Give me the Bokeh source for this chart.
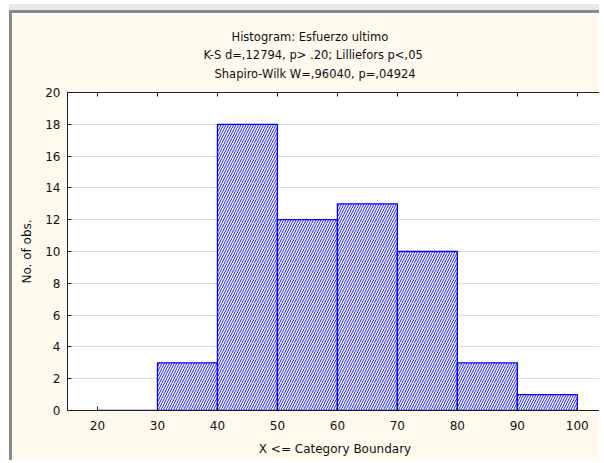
from bokeh.plotting import figure
from bokeh.models import LinearAxis, FixedTicker, Range1d, Title
from bokeh.embed import file_html
from bokeh.resources import INLINE

# Data
bin_left = [20, 30, 40, 50, 60, 70, 80, 90]
bin_right = [30, 40, 50, 60, 70, 80, 90, 100]
counts = [0, 3, 18, 12, 13, 10, 3, 1]
x_ticks = [20, 30, 40, 50, 60, 70, 80, 90, 100]
y_ticks = [0, 2, 4, 6, 8, 10, 12, 14, 16, 18, 20]
title_lines = [
    "Histogram: Esfuerzo ultimo",
    "K-S d=,12794, p> .20; Lilliefors p<,05",
    "Shapiro-Wilk W=,96040, p=,04924",
]

FONT = "DejaVu Sans"
CREAM = "#FFF9EE"

p = figure(
    width=590, height=450,
    output_backend="svg", toolbar_location=None,
    x_range=Range1d(15, 104.2), y_range=Range1d(0, 20),
    x_axis_location=None, y_axis_location=None,
    min_border_left=55, min_border_right=0,
    min_border_top=79, min_border_bottom=53,
    background_fill_color="white", border_fill_color=CREAM,
    outline_line_color=None,
)
p.styles = {
    "margin-left": "9px", "margin-top": "10px",
    "border-left": "3px solid #8a8a8a", "border-top": "3px solid #8a8a8a",
    "box-shadow": "0 -6px 0 0 #e8e8e8",
}

# grid
p.xgrid.visible = False
p.ygrid.ticker = FixedTicker(ticks=y_ticks[1:-1])
p.ygrid.grid_line_color = "#B4B4B4"
p.ygrid.grid_line_dash = "1 1"
p.ygrid.grid_line_width = 1

# bars
p.quad(left=bin_left, right=bin_right, bottom=0, top=counts,
       fill_color="white", line_color="#0000FF", line_width=1.3,
       hatch_pattern="/", hatch_color="#1a1aff", hatch_scale=5, hatch_weight=1)

def style_axis(ax):
    ax.axis_line_color = "#202020"
    ax.major_tick_line_color = "#202020"
    ax.major_tick_in = 4
    ax.major_tick_out = 0
    ax.minor_tick_line_color = None
    ax.major_label_text_font = FONT
    ax.major_label_text_font_size = "12px"
    ax.major_label_text_color = "#111111"
    ax.axis_label_text_font = FONT
    ax.axis_label_text_font_size = "12px"
    ax.axis_label_text_font_style = "normal"
    ax.axis_label_text_color = "#111111"

xb = LinearAxis(ticker=FixedTicker(ticks=x_ticks), axis_label="X <= Category Boundary")
style_axis(xb)
xb.major_label_standoff = 10
xb.axis_label_standoff = 9
p.add_layout(xb, "below")

xt = LinearAxis(ticker=FixedTicker(ticks=x_ticks))
style_axis(xt)
xt.major_label_text_font_size = "0px"
xt.major_label_text_color = None
xt.major_label_standoff = 0
p.add_layout(xt, "above")

yl = LinearAxis(ticker=FixedTicker(ticks=y_ticks), axis_label="No. of obs.")
style_axis(yl)
yl.major_label_standoff = 7
yl.axis_label_standoff = 8
p.add_layout(yl, "left")

# title lines (nearest to the frame first)
title_offsets = [164, 136, 147]
title_standoffs = [19, -16, 23]
for txt, off, so in reversed(list(zip(title_lines, title_offsets, title_standoffs))):
    p.add_layout(Title(text=txt, align="left", offset=off, text_font=FONT,
                       text_font_size="11.5px", text_font_style="normal",
                       text_color="#111111", standoff=so), "above")

open("out.html", "w").write(file_html(p, INLINE))
